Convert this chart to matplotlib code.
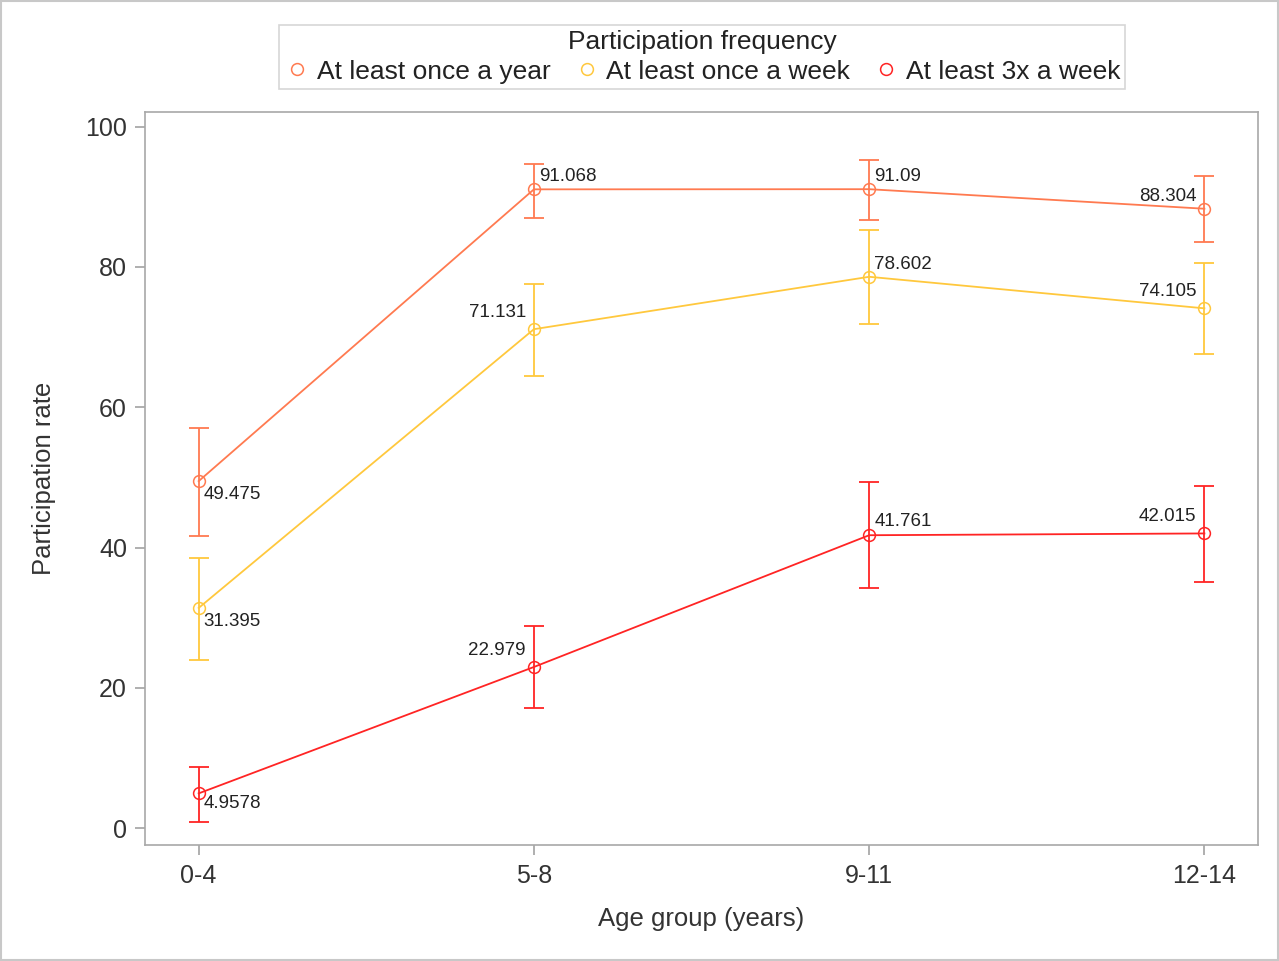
import numpy as np
import matplotlib
matplotlib.use("Agg")
import matplotlib.pyplot as plt

plt.rcParams['font.family'] = ['Liberation Sans', 'DejaVu Sans']

# data
age_groups = ["0-4", "5-8", "9-11", "12-14"]
series_names = ["At least once a year", "At least once a week", "At least 3x a week"]

yearly = [49.475, 91.068, 91.09, 88.304]
yearly_lo = [41.6, 87.0, 86.7, 83.6]
yearly_hi = [57.1, 94.7, 95.3, 93.0]

weekly = [31.395, 71.131, 78.602, 74.105]
weekly_lo = [24.0, 64.5, 71.9, 67.6]
weekly_hi = [38.5, 77.6, 85.3, 80.5]

thrice = [4.9578, 22.979, 41.761, 42.015]
thrice_lo = [0.9, 17.1, 34.2, 35.1]
thrice_hi = [8.7, 28.8, 49.4, 48.8]

value_labels = [["49.475", "91.068", "91.09", "88.304"],
                ["31.395", "71.131", "78.602", "74.105"],
                ["4.9578", "22.979", "41.761", "42.015"]]

colors = ["#FF7A50", "#FFC83D", "#FF2424"]
text_col = "#333333"

fig = plt.figure(figsize=(12.79, 9.61), dpi=100)
ax = fig.add_axes([0.1134, 0.1207, 0.8702, 0.7628])

x = np.arange(len(age_groups))
means = [yearly, weekly, thrice]
los = [yearly_lo, weekly_lo, thrice_lo]
his = [yearly_hi, weekly_hi, thrice_hi]

# label placement: (dx px, dy px, ha, va) per series/point
place = [
    [(5, -5, 'left', 'top'), (5, 4, 'left', 'bottom'), (5, 4, 'left', 'bottom'), (-8, 4, 'right', 'bottom')],
    [(5, -5, 'left', 'top'), (-8, 8, 'right', 'bottom'), (5, 4, 'left', 'bottom'), (-8, 8, 'right', 'bottom')],
    [(5, -2, 'left', 'top'), (-8, 8, 'right', 'bottom'), (5, 5, 'left', 'bottom'), (-8, 8, 'right', 'bottom')],
]

for k in range(3):
    m = np.array(means[k])
    lo = m - np.array(los[k])
    hi = np.array(his[k]) - m
    ax.errorbar(x, m, yerr=[lo, hi], fmt='none', ecolor=colors[k],
                elinewidth=1.3, capsize=7, capthick=1.3, zorder=2)
    ax.plot(x, m, color=colors[k], lw=1.3, marker='o', ms=8.5,
            mfc='none', mec=colors[k], mew=1.1, zorder=3)
    for i in range(len(x)):
        dx, dy, ha, va = place[k][i]
        ax.annotate(value_labels[k][i], (x[i], m[i]), xytext=(dx * 0.72, dy * 0.72),
                    textcoords='offset points', ha=ha, va=va,
                    fontsize=13.5, color='#222222')

ax.set_xlim(-0.16, 3.16)
ax.set_ylim(-2.4, 102.1)
ax.set_xticks(x)
ax.set_xticklabels(age_groups)
ax.set_yticks([0, 20, 40, 60, 80, 100])
ax.tick_params(axis='both', labelsize=18, colors='#9a9a9a', labelcolor=text_col,
               length=7, width=1.1, direction='out')
ax.tick_params(axis='y', pad=6)
ax.tick_params(axis='x', pad=7)
for s in ax.spines.values():
    s.set_color('#a8a8a8')
    s.set_linewidth(1.2)

ax.set_xlabel("Age group (years)", fontsize=18.5, color=text_col, labelpad=13)
ax.set_ylabel("Participation rate", fontsize=18.5, color=text_col, labelpad=21)

# legend handles with markers only
leg_handles = [plt.Line2D([], [], ls='none', marker='o', ms=8.5, mfc='none',
                          mec=c, mew=1.1) for c in colors]
leg = fig.legend(leg_handles, series_names, loc='center', bbox_to_anchor=(0.549, 0.9407),
                 ncol=3, title="Participation frequency", fontsize=19,
                 title_fontsize=19, frameon=True, fancybox=False,
                 handletextpad=0.25, columnspacing=0.85, handlelength=1.0,
                 borderpad=0.2, labelspacing=0.2)
leg.get_frame().set_edgecolor('#cccccc')
leg.get_frame().set_linewidth(1.2)
for t in leg.get_texts():
    t.set_color('#222222')
leg.get_title().set_color('#222222')

# figure border
fig.patches.append(plt.Rectangle((0.001, 0.001), 0.998, 0.998, transform=fig.transFigure,
                                 fill=False, edgecolor='#c8c8c8', lw=1.5))

fig.savefig("out.png", dpi=100)
